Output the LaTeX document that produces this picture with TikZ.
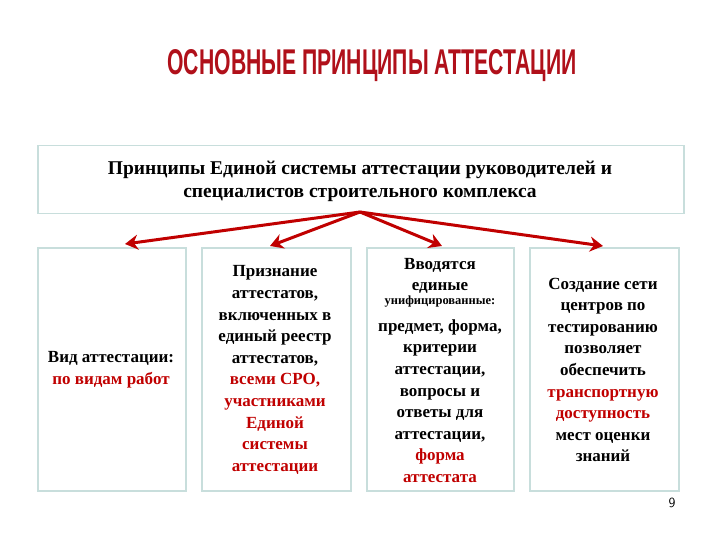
\documentclass[tikz,border=0pt]{standalone}
\usepackage{fontspec}
\usepackage{graphicx}
\usetikzlibrary{arrows.meta}
\setmainfont{Liberation Serif}
\newfontfamily\titlefont{Liberation Sans}
\definecolor{dred}{HTML}{C00000}
\definecolor{tred}{HTML}{B0101A}
\definecolor{bord}{HTML}{C8DEDC}
\begin{document}
\begin{tikzpicture}[x=1pt,y=-1pt,
  box/.style={draw=bord,line width=1.5pt},
  txt/.style={align=center,font=\bfseries\fontsize{17}{21.6}\selectfont,inner sep=0pt},
  arr/.style={draw=dred,line width=3pt,-{Stealth[length=13pt,width=15pt]}}]
\useasboundingbox (0,0) rectangle (720,540);
\node[inner sep=0pt,text=tred] (title) at (372,66) {\resizebox{409pt}{25pt}{\titlefont\bfseries ОСНОВНЫЕ ПРИНЦИПЫ АТТЕСТАЦИИ}};
\node[box,minimum width=646pt,minimum height=68pt,anchor=north west] (top) at (37,145) {};
\node[txt,font=\bfseries\fontsize{19.5}{23}\selectfont] (toptxt) at (360,181) {Принципы Единой системы аттестации руководителей и\\специалистов строительного комплекса};
\node[box,minimum width=148pt,minimum height=243pt,anchor=north west] (b1) at (37,247) {};
\node[box,minimum width=149pt,minimum height=243pt,anchor=north west] (b2) at (201,247) {};
\node[box,minimum width=147pt,minimum height=243pt,anchor=north west] (b3) at (366,247) {};
\node[box,minimum width=149pt,minimum height=243pt,anchor=north west] (b4) at (529,247) {};
\node[txt] (t1) at (111,370) {Вид аттестации:\\\textcolor{dred}{по видам работ}};
\node[txt] (t2) at (275,370) {Признание\\аттестатов,\\включенных в\\единый реестр\\аттестатов,\\\color{dred}всеми СРО,\\\color{dred}участниками\\\color{dred}Единой\\\color{dred}системы\\\color{dred}аттестации};
\node[txt] (t3a) at (440,276) {Вводятся\\единые};
\node[txt,font=\bfseries\fontsize{12.5}{14}\selectfont] (t3b) at (440,302) {унифицированные:};
\node[txt] (t3c) at (440,401) {предмет, форма,\\критерии\\аттестации,\\вопросы и\\ответы для\\аттестации,\\\color{dred}форма\\\color{dred}аттестата};
\node[txt] (t4) at (603,370) {Создание сети\\центров по\\тестированию\\позволяет\\обеспечить\\\color{dred}транспортную\\\color{dred}доступность\\мест оценки\\знаний};
\coordinate (o) at (360,212);
\coordinate (e1) at (125,244);
\coordinate (e2) at (270,246);
\coordinate (e3) at (442,246);
\coordinate (e4) at (603,246);
\foreach \e in {e1,e2,e3,e4} \draw[arr] (o) -- (\e);
\node[font=\sffamily\fontsize{14}{16}\selectfont] (pg) at (672,503) {9};
\end{tikzpicture}
\end{document}
